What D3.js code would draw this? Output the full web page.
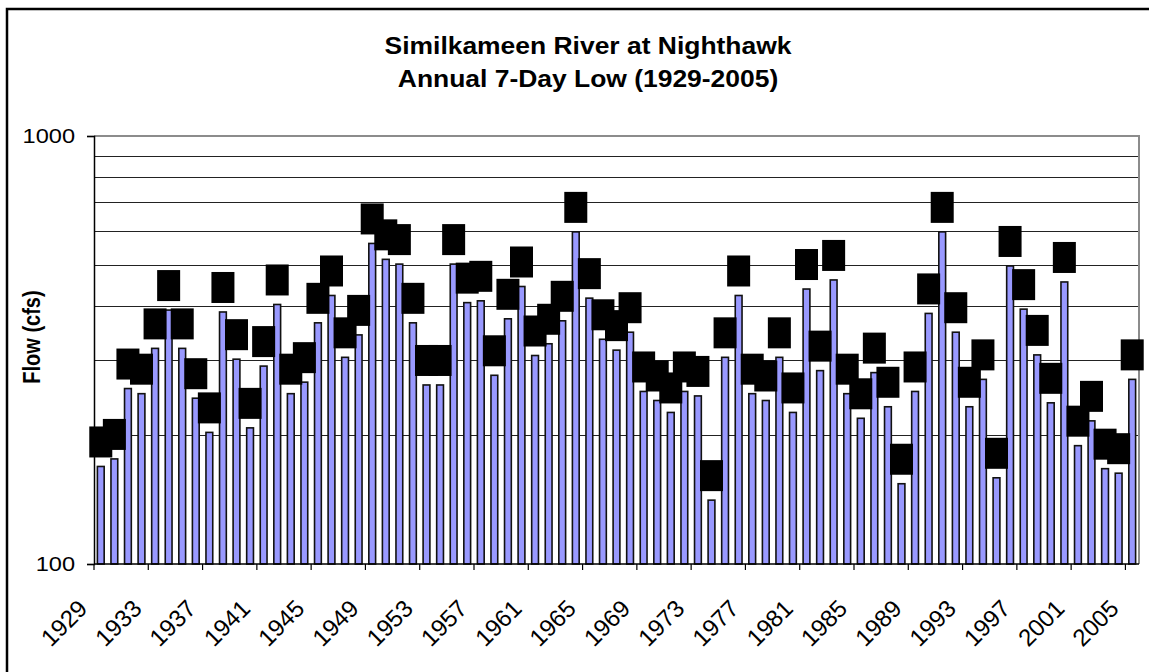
<!DOCTYPE html>
<html>
<head>
<meta charset="utf-8">
<script src="https://cdn.jsdelivr.net/npm/d3@7"></script>
<style>
  body { margin: 0; background: #fff; }
  text { font-family: "Liberation Sans", Arial, sans-serif; }
</style>
</head>
<body>
<script>
var width = 1149,
    height = 672;

// data
var years = d3.range(1929, 2006);
var flow = [169, 176, 257, 250, 319, 392, 319, 244, 203, 388, 301, 208, 290, 404, 250, 266, 366, 424, 304, 343,
            561, 515, 502, 366, 262, 262, 502, 408, 412, 276, 374, 445, 307, 327, 370, 597, 418, 335, 316,
            348, 253, 241, 226, 253, 247, 141, 304, 424, 250, 241, 304, 226, 439, 283, 461, 250, 219, 280,
            233, 154, 253, 385, 597, 348, 233, 270, 159, 497, 394, 308, 238, 456, 189, 216, 167, 163, 270];
var yTicks = [100, 1000];
var gridVals = [200, 300, 400, 500, 600, 700, 800, 900];
var titleLines = ['Similkameen River at Nighthawk', 'Annual 7-Day Low (1929-2005)'];
var yTitle = 'Flow (cfs)';

var pLeft = 94, pRight = 1139, pTop = 136, pBottom = 564;
var sx = 1.15;  // picture is a little wider than tall

var data = years.map(function(y, i) { return {year: y, v: flow[i]} });

var svg = d3.select('body')
            .append('svg')
            .attr('width', width)
            .attr('height', height)

svg.append('rect')
    .attr('width', width)
    .attr('height', height)
    .attr('fill', 'white')

// outer frame (cut off at right and bottom)
svg.append('rect')
    .attr('x', 7)
    .attr('y', 9)
    .attr('width', 1200)
    .attr('height', 700)
    .attr('fill', 'none')
    .attr('stroke', 'black')
    .attr('stroke-width', 2.5)

var x = d3.scaleBand()
    .domain(years)
    .range([pLeft, pRight])
    .paddingInner(0.5)
    .paddingOuter(0.25)

var y = d3.scaleLog()
    .domain([100, 1000])
    .range([pBottom, pTop])

// gridlines
svg.selectAll('.grid')
    .data(gridVals)
    .enter()
    .append('line')
    .attr('x1', pLeft)
    .attr('x2', pRight)
    .attr('y1', (d) => Math.round(y(d)) + 0.5)
    .attr('y2', (d) => Math.round(y(d)) + 0.5)
    .attr('stroke', '#222')
    .attr('stroke-width', 1)

// plot border top/right
svg.append('path')
    .attr('d', 'M' + pLeft + ',' + pTop + 'H' + pRight + 'V' + pBottom)
    .attr('fill', 'none')
    .attr('stroke', '#8c8c8c')
    .attr('stroke-width', 2)

// bars
svg.selectAll('.bar')
    .data(data)
    .enter()
    .append('rect')
    .attr('x', (d) => x(d.year))
    .attr('y', (d) => y(d.v))
    .attr('width', x.bandwidth())
    .attr('height', (d) => pBottom - y(d.v))
    .attr('fill', '#9999ff')
    .attr('stroke', '#111')
    .attr('stroke-width', 1.6)

// data labels (black boxes, black text)
var lw = 23, lh = 31, gap = 9;
var lab = svg.selectAll('.lab')
    .data(data)
    .enter()
    .append('g')
    .attr('transform', (d) => 'translate(' + (x(d.year) + x.bandwidth() / 2) + ',' + (y(d.v) - gap - lh) + ')')
lab.append('rect')
    .attr('x', -lw / 2)
    .attr('y', 0)
    .attr('width', lw)
    .attr('height', lh)
    .attr('fill', 'black')
lab.append('text')
    .attr('y', lh / 2 + 5)
    .attr('text-anchor', 'middle')
    .attr('font-size', 12)
    .attr('fill', 'black')
    .text((d) => d.v)

// y axis
var yAxis = svg.append('g')
    .attr('transform', 'translate(' + pLeft + ',0)')
    .call(d3.axisLeft(y).tickValues(yTicks).tickSize(7).tickFormat(''))
yAxis.select('.domain').attr('stroke', 'black').attr('stroke-width', 1.5)
yAxis.selectAll('.tick line').attr('stroke', 'black').attr('stroke-width', 1.2)

svg.selectAll('.ylab')
    .data(yTicks)
    .enter()
    .append('text')
    .attr('transform', (d) => 'translate(75,' + y(d) + ') scale(' + sx + ',1)')
    .attr('dy', '0.36em')
    .attr('text-anchor', 'end')
    .attr('font-size', 20.5)
    .text((d) => d)

// x axis
var step = x.step();
var edgeVals = years.filter((d, i) => i % 4 == 0);
svg.append('line')
    .attr('x1', pLeft).attr('x2', pRight)
    .attr('y1', pBottom).attr('y2', pBottom)
    .attr('stroke', 'black')
    .attr('stroke-width', 1.5)
svg.selectAll('.xtick')
    .data(edgeVals)
    .enter()
    .append('line')
    .attr('x1', (d) => x(d) - (step - x.bandwidth()) / 2)
    .attr('x2', (d) => x(d) - (step - x.bandwidth()) / 2)
    .attr('y1', pBottom)
    .attr('y2', pBottom + 6)
    .attr('stroke', 'black')
    .attr('stroke-width', 1.2)

svg.selectAll('.xlab')
    .data(edgeVals)
    .enter()
    .append('text')
    .attr('transform', (d) => 'translate(' + (x(d) + x.bandwidth() / 2 - 12) + ',610) rotate(-45)')
    .attr('text-anchor', 'end')
    .attr('font-size', 24)
    .text((d) => d)

// titles
svg.selectAll('.title')
    .data(titleLines)
    .enter()
    .append('text')
    .attr('transform', (d, i) => 'translate(588,' + (54 + i * 33) + ') scale(' + sx + ',1)')
    .attr('text-anchor', 'middle')
    .attr('font-size', 23)
    .attr('font-weight', 'bold')
    .text((d) => d)

svg.append('text')
    .attr('transform', 'translate(40,337) scale(' + sx + ',1) rotate(-90)')
    .attr('text-anchor', 'middle')
    .attr('font-size', 20)
    .attr('font-weight', 'bold')
    .text(yTitle)
</script>
</body>
</html>
